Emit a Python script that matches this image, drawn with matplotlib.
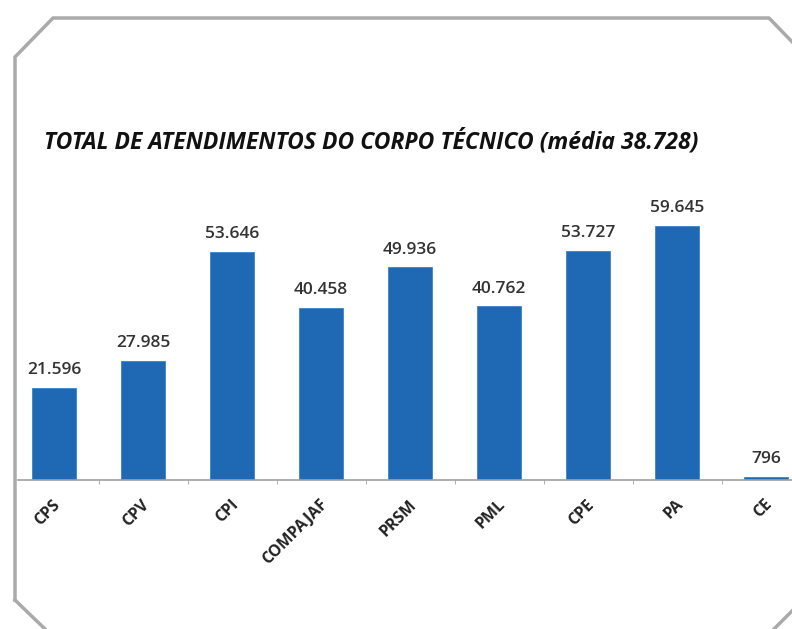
import matplotlib.pyplot as plt
import matplotlib.transforms as mtransforms
from matplotlib.lines import Line2D

categorias = ['CPS', 'CPV', 'CPI', 'COMPAJAF', 'PRSM', 'PML', 'CPE', 'PA', 'CE']
valores = [21596, 27985, 53646, 40458, 49936, 40762, 53727, 59645, 796]
rotulos = ['21.596', '27.985', '53.646', '40.458', '49.936', '40.762', '53.727', '59.645', '796']
titulo = 'TOTAL DE ATENDIMENTOS DO CORPO TÉCNICO (média 38.728)'

W, H = 792, 629
fig = plt.figure(figsize=(W / 100, H / 100), dpi=100)

# axes placed in pixel terms of the original picture (right side runs off the figure)
x0, x1 = 9.5, 810.5
ybase, ytop = 480, 182
ax = fig.add_axes([x0 / W, (H - ybase) / H, (x1 - x0) / W, (ybase - ytop) / H])

pos = range(len(categorias))
ax.bar(pos, valores, width=0.5, color='#1f68b3', edgecolor='#3c82c8', linewidth=0.6, zorder=2)
ax.set_xlim(-0.5, len(categorias) - 0.5)
ax.set_ylim(0, 70000)

for i, (v, t) in enumerate(zip(valores, rotulos)):
    ax.text(i, v + 2300, t, ha='center', va='bottom', fontsize=12.5, color='#333333',
            family='Open Sans', fontweight='semibold')

for s in ['top', 'right', 'left']:
    ax.spines[s].set_visible(False)
ax.spines['bottom'].set_color('#a0a0a0')
ax.spines['bottom'].set_linewidth(1.2)
ax.spines['bottom'].set_bounds(-0.4, 8.5)
ax.set_yticks([])
ax.set_xticks([p + 0.5 for p in range(len(categorias) - 1)], minor=True)
ax.set_xticks(list(pos))
ax.tick_params(axis='x', which='major', length=0, pad=16)
ax.tick_params(axis='x', which='minor', length=3, color='#a0a0a0')
ax.set_xticklabels(categorias, rotation=45, ha='right', va='center', rotation_mode='anchor',
                   fontsize=11.5, fontweight='bold', color='#222222', family='Open Sans')
desloc = mtransforms.ScaledTranslation(4 / 100, 0, fig.dpi_scale_trans)
for lab in ax.get_xticklabels():
    lab.set_transform(lab.get_transform() + desloc)

fig.text(44 / W, 1 - 142 / H, titulo, ha='left', va='center', fontsize=16.5,
         fontweight='bold', fontstyle='italic', family='Open Sans', color='#111111')

# chamfered frame around the chart
cantos = [(15, 600), (15, 57), (53, 18), (769, 18), (800, 50)]
fx = [p[0] / W for p in cantos]
fy = [1 - p[1] / H for p in cantos]
fig.add_artist(Line2D(fx, fy, transform=fig.transFigure, color='#aaaaaa', lw=2.5))
fig.add_artist(Line2D([15 / W, 45 / W], [1 - 600 / H, 0],
                      transform=fig.transFigure, color='#aaaaaa', lw=2.5))
fig.add_artist(Line2D([774 / W, 800 / W], [0, 1 - 603 / H],
                      transform=fig.transFigure, color='#aaaaaa', lw=2.5))

fig.savefig('out.png', dpi=100)
